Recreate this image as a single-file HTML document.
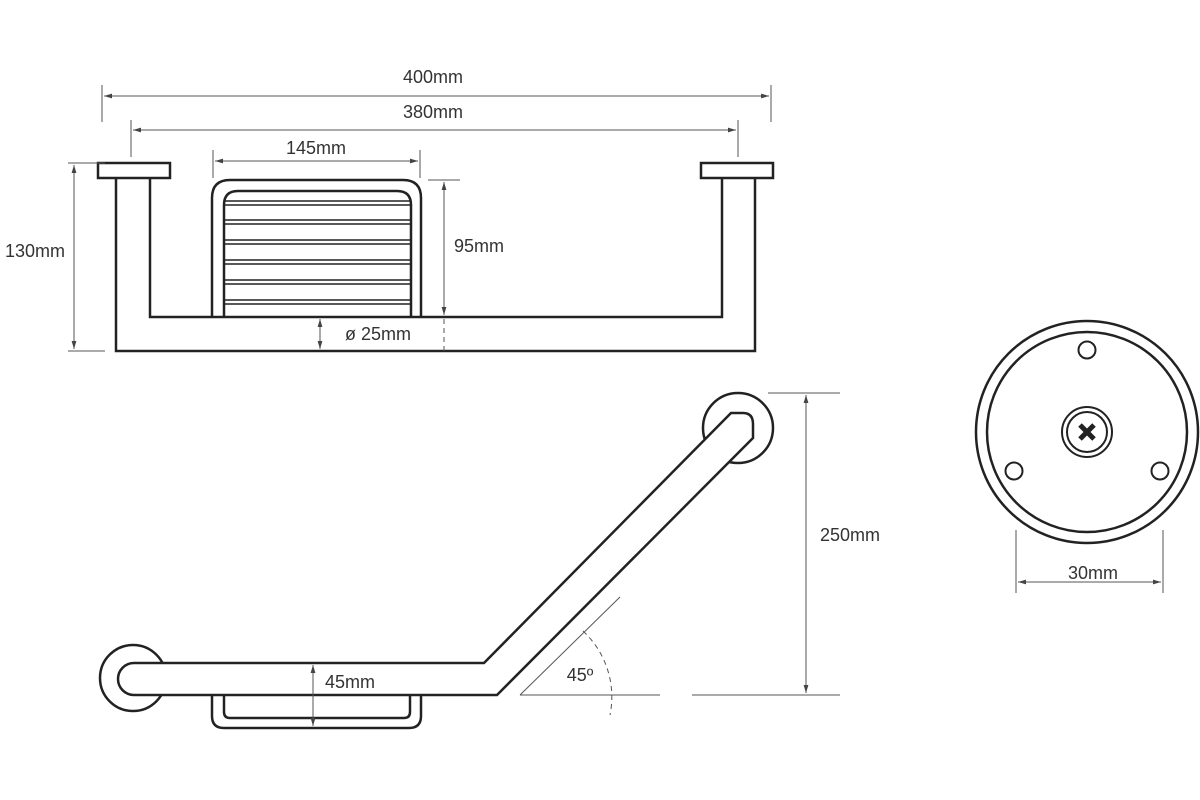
<!DOCTYPE html>
<html><head><style>body{margin:0;background:#fff}svg{display:block}text{font-family:"Liberation Sans",sans-serif;font-size:18px;fill:#333}</style></head><body>
<svg width="1200" height="800" viewBox="0 0 1200 800" xmlns="http://www.w3.org/2000/svg">
<defs>
<marker id="a" viewBox="0 0 10 10" refX="10" refY="5" markerWidth="8" markerHeight="8" orient="auto-start-reverse"><path d="M0,2 L10,5 L0,8z" fill="#444"/></marker>
</defs>
<g stroke="#222" stroke-width="2.5" fill="none">
<rect x="98" y="163" width="72" height="15" fill="#fff"/>
<rect x="701" y="163" width="72" height="15" fill="#fff"/>
<path d="M116,178 V351 H755 V178 M722,178 V317 H150 V178"/>
<path d="M212,317 V198 Q212,180 230,180 H403 Q421,180 421,198 V317"/>
<path d="M224,317 V205 Q224,191 238,191 H397 Q411,191 411,205 V317"/>
</g>
<g stroke="#222" stroke-width="1.6">
<path d="M225,201H410M225,205H410M225,220H410M225,224H410M225,240H410M225,244H410M225,260H410M225,264H410M225,280H410M225,284H410M225,300H410M225,304H410"/>
</g>
<g stroke="#222" stroke-width="2.5" fill="none">
<circle cx="133" cy="678" r="33"/>
<circle cx="738" cy="428" r="35"/>
<path d="M212,695V716Q212,728 224,728H409Q421,728 421,716V695"/>
<path d="M224,695V712Q224,718 230,718H404Q410,718 410,712V695"/>
<path d="M134,663H484L731,413H743Q753,413 753,424V438L497,695H134A16,16 0 0 1 134,663Z" fill="#fff"/>
<circle cx="1087" cy="432" r="111"/>
<circle cx="1087" cy="432" r="100"/>
<circle cx="1087" cy="350" r="8.5" stroke-width="2"/>
<circle cx="1014" cy="471" r="8.5" stroke-width="2"/>
<circle cx="1160" cy="471" r="8.5" stroke-width="2"/>
<circle cx="1087" cy="432" r="25" stroke-width="2"/>
<circle cx="1087" cy="432" r="20" stroke-width="2"/>
<path d="M1080,425L1094,439M1094,425L1080,439" stroke-width="5"/>
</g>
<g stroke="#555" stroke-width="1" fill="none">
<path d="M102,85V122M771,85V122M131,120V157M738,120V157M213,150V178M420,150V178M428,180H460M68,163H105M68,351H105"/>
<path d="M104,96H769" marker-start="url(#a)" marker-end="url(#a)"/>
<path d="M133,130H736" marker-start="url(#a)" marker-end="url(#a)"/>
<path d="M215,161H418" marker-start="url(#a)" marker-end="url(#a)"/>
<path d="M444,182V315" marker-start="url(#a)" marker-end="url(#a)"/>
<path d="M444,319V351" stroke-dasharray="5,4"/>
<path d="M320,319V349" marker-start="url(#a)" marker-end="url(#a)"/>
<path d="M74,165V349" marker-start="url(#a)" marker-end="url(#a)"/>
<path d="M768,393H840M692,695H840"/>
<path d="M806,395V693" marker-start="url(#a)" marker-end="url(#a)"/>
<path d="M313,665V726" marker-start="url(#a)" marker-end="url(#a)"/>
<path d="M520,695H660M520,695L620,597"/>
<path d="M583,631 A90,90 0 0 1 610,715" stroke-dasharray="5,4"/>
<path d="M1016,530V593M1163,530V593"/>
<path d="M1018,582H1161" marker-start="url(#a)" marker-end="url(#a)"/>
</g>
<text x="433" y="83" text-anchor="middle">400mm</text>
<text x="433" y="118" text-anchor="middle">380mm</text>
<text x="316" y="154" text-anchor="middle">145mm</text>
<text x="479" y="252" text-anchor="middle">95mm</text>
<text x="378" y="340" text-anchor="middle">ø 25mm</text>
<text x="35" y="257" text-anchor="middle">130mm</text>
<text x="850" y="541" text-anchor="middle">250mm</text>
<text x="350" y="688" text-anchor="middle">45mm</text>
<text x="580" y="681" text-anchor="middle">45º</text>
<text x="1093" y="579" text-anchor="middle">30mm</text>
</svg>
</body></html>
